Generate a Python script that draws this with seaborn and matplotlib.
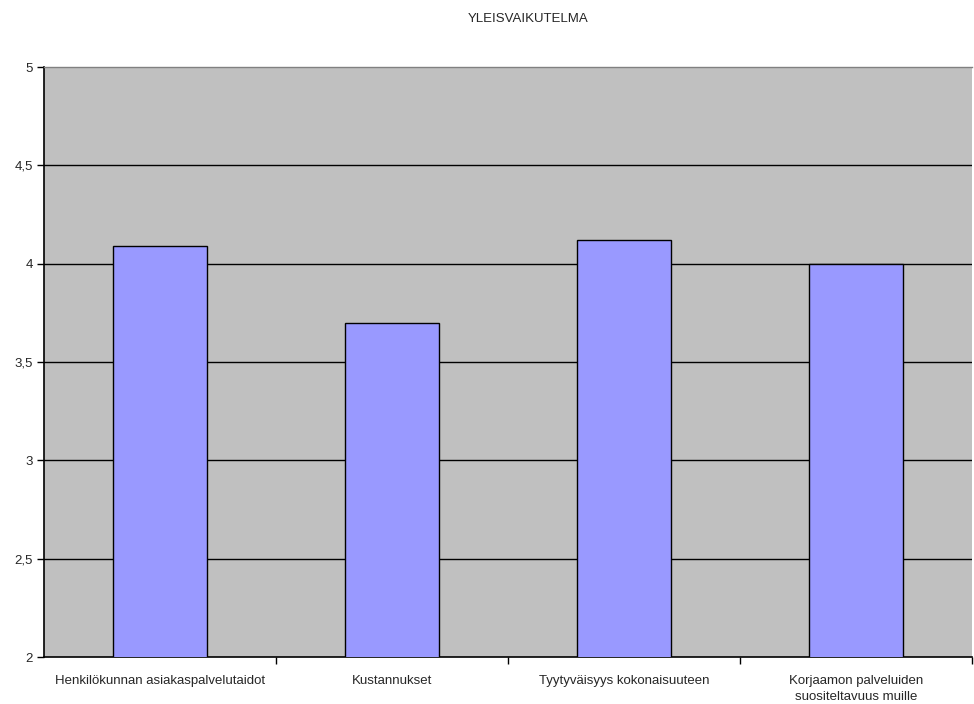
import matplotlib
matplotlib.use("Agg")
import matplotlib.pyplot as plt
import seaborn as sns
import pandas as pd
from matplotlib.ticker import FixedLocator

title = "YLEISVAIKUTELMA"
categories = [
    "Henkilökunnan asiakaspalvelutaidot",
    "Kustannukset",
    "Tyytyväisyys kokonaisuuteen",
    "Korjaamon palveluiden\nsuositeltavuus muille",
]
values = [4.09, 3.70, 4.12, 4.00]
y_ticks = [2, 2.5, 3, 3.5, 4, 4.5, 5]
y_tick_labels = ["2", "2,5", "3", "3,5", "4", "4,5", "5"]

sns.set_theme(style="white")
plt.rcParams["font.family"] = ["Liberation Sans", "DejaVu Sans"]

df = pd.DataFrame({"kategoria": categories, "arvo": values})

fig = plt.figure(figsize=(9.74, 7.04), dpi=100)
ax = fig.add_axes([44 / 974, 1 - 657 / 704, (972 - 44) / 974, (657 - 67) / 704])
ax.set_facecolor("#C0C0C0")

sns.barplot(data=df, x="kategoria", y="arvo", color="#9999FF", width=0.405,
            edgecolor="black", linewidth=1.0, saturation=1, ax=ax, zorder=3)

ax.set_ylim(2, 5)
ax.set_xlim(-0.5, len(categories) - 0.5)
ax.set_yticks(y_ticks)
ax.set_yticklabels(y_tick_labels, fontsize=9.5)
for y in y_ticks[1:-1]:
    ax.axhline(y, color="black", linewidth=1.0, zorder=1)

ax.set_xticks(range(len(categories)))
ax.set_xticklabels(categories, fontsize=9.5, linespacing=1.4)
ax.tick_params(axis="x", which="major", length=0, pad=13)
ax.xaxis.set_minor_locator(FixedLocator([0.5, 1.5, 2.5, 3.5]))
ax.tick_params(axis="x", which="minor", length=5, width=1, color="black", direction="out", bottom=True)
ax.tick_params(axis="y", length=5, width=1, color="black", direction="out", left=True, pad=3)

ax.set_xlabel("")
ax.set_ylabel("")

for s in ["left", "bottom"]:
    ax.spines[s].set_color("black")
    ax.spines[s].set_linewidth(1.2)
ax.spines["top"].set_color("#808080")
ax.spines["top"].set_linewidth(1.0)
ax.spines["right"].set_visible(False)

fig.text(528 / 974, 1 - 19 / 704, title, ha="center", va="center", fontsize=9.5)

fig.savefig("out.png", dpi=100, facecolor="white")
